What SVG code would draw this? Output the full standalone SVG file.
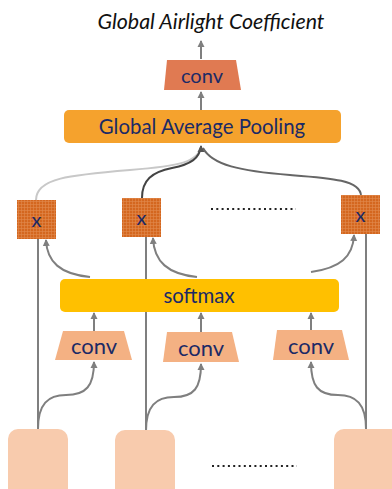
<svg xmlns="http://www.w3.org/2000/svg" width="392" height="489" viewBox="0 0 392 489">
  <style>
    .lbl { font-family: Lato, "Open Sans", "Liberation Sans", sans-serif; fill: #1b2a66; text-anchor: middle; }
    .title { font-family: Lato, "Open Sans", "Liberation Sans", sans-serif; font-style: italic; fill: #111; text-anchor: middle; font-size: 21.4px; }
    .wire { fill: none; stroke: #7f7f7f; stroke-width: 2; }
    .arr { marker-end: url(#head); }
    .inp { fill: #f8cbad; }
    .convS { fill: #f4b183; }
    .mul { fill: url(#grid); }
    .dots { fill: none; stroke: #222; stroke-width: 2.2; stroke-dasharray: 2 3.3; }
  </style>
  <defs>
    <marker id="head" markerWidth="8" markerHeight="8" refX="6" refY="4" orient="auto" markerUnits="userSpaceOnUse">
      <path d="M0,0.5 L7,4 L0,7.5 Z" fill="#7f7f7f"/>
    </marker>
    <marker id="headDark" markerWidth="8" markerHeight="8" refX="6" refY="4" orient="auto" markerUnits="userSpaceOnUse">
      <path d="M0,0.5 L7,4 L0,7.5 Z" fill="#555"/>
    </marker>
    <pattern id="grid" width="3" height="3" patternUnits="userSpaceOnUse">
      <rect width="3" height="3" fill="#d4671f"/>
      <path d="M0,0.5 H3 M0.5,0 V3" stroke="#e08a4e" stroke-width="0.6"/>
    </pattern>
  </defs>

  <!-- connectors -->
  <g id="connectors">
    <!-- output -->
    <line class="wire arr" x1="201" y1="59" x2="201" y2="41"/>
    <line class="wire arr" x1="201" y1="110" x2="201" y2="92"/>
    <!-- weighted features into pooling -->
    <path d="M36,200 C36,178 70,175 130,170 C180,166 198,162 201,147" fill="none" stroke="#c8c8c8" stroke-width="2"/>
    <path d="M142,198 C142,180 152,172 172,168 C192,164 199,158 201,147" fill="none" stroke="#444" stroke-width="2"/>
    <path d="M361,196 C361,180 330,178 290,175 C240,171 212,165 203,148" fill="none" stroke="#666" stroke-width="2"/>
    <path d="M201,150 L201,146" fill="none" stroke="#555" stroke-width="2" marker-end="url(#headDark)"/>
    <!-- skip paths -->
    <line class="wire" x1="38" y1="239" x2="38" y2="429"/>
    <line class="wire" x1="146" y1="237" x2="146" y2="431"/>
    <line class="wire" x1="366" y1="234" x2="366" y2="429"/>
    <!-- softmax to multipliers -->
    <path class="wire arr" d="M90,277 C60,274 47,262 46,240"/>
    <path class="wire arr" d="M197,277 C168,274 154,262 153,238"/>
    <path class="wire arr" d="M311,272 C340,268 353,257 354,235"/>
    <!-- conv to softmax -->
    <line class="wire arr" x1="94" y1="331" x2="94" y2="313"/>
    <line class="wire arr" x1="201" y1="332" x2="201" y2="313"/>
    <line class="wire arr" x1="311" y1="330" x2="311" y2="313"/>
    <!-- inputs to conv -->
    <path class="wire arr" d="M38,429 C38,404 48,395 66,395 C86,395 94,386 94,362"/>
    <path class="wire arr" d="M146,431 C146,406 156,397 174,397 C194,397 201,388 201,364"/>
    <path class="wire arr" d="M366,429 C366,404 356,395 338,395 C318,395 311,386 311,362"/>
  </g>

  <text class="title" x="211" y="29">Global Airlight Coefficient</text>

  <g id="conv-out">
    <path d="M167,60 L236,60 L241,90 L164,90 Z" fill="#e07a52"/>
    <text class="lbl" x="202" y="83" font-size="20">conv</text>
  </g>

  <g id="gap">
    <rect x="64" y="110" width="277" height="33" rx="5" fill="#f5a22d"/>
    <text class="lbl" x="202" y="134" font-size="20.4">Global Average Pooling</text>
  </g>

  <g id="mul1">
    <rect class="mul" x="17" y="200" width="39" height="39"/>
    <text class="lbl" x="36.5" y="227" font-size="20">x</text>
  </g>
  <g id="mul2">
    <rect class="mul" x="122" y="198" width="39" height="39"/>
    <text class="lbl" x="141.5" y="225" font-size="20">x</text>
  </g>
  <g id="mul3">
    <rect class="mul" x="341" y="195" width="39" height="39"/>
    <text class="lbl" x="360.5" y="222" font-size="20">x</text>
  </g>
  <line class="dots" x1="211" y1="209" x2="296" y2="209"/>

  <g id="softmax">
    <rect x="60" y="279" width="279" height="33" rx="5" fill="#ffc000"/>
    <text class="lbl" x="199" y="303" font-size="20.4">softmax</text>
  </g>

  <g id="conv1">
    <path class="convS" d="M63,331 L124,331 L132,360 L55,360 Z"/>
    <text class="lbl" x="94" y="354" font-size="22">conv</text>
  </g>
  <g id="conv2">
    <path class="convS" d="M167,332 L232,332 L239,362 L163,362 Z"/>
    <text class="lbl" x="201" y="356" font-size="22">conv</text>
  </g>
  <g id="conv3">
    <path class="convS" d="M277,330 L342,330 L349,360 L273,360 Z"/>
    <text class="lbl" x="311" y="354" font-size="22">conv</text>
  </g>

  <g id="in1"><rect class="inp" x="8" y="429" width="60" height="70" rx="10"/></g>
  <g id="in2"><rect class="inp" x="115" y="430" width="60" height="70" rx="10"/></g>
  <g id="in3"><rect class="inp" x="334" y="429" width="70" height="70" rx="10"/></g>
  <line class="dots" x1="212" y1="466" x2="297" y2="466"/>
</svg>
